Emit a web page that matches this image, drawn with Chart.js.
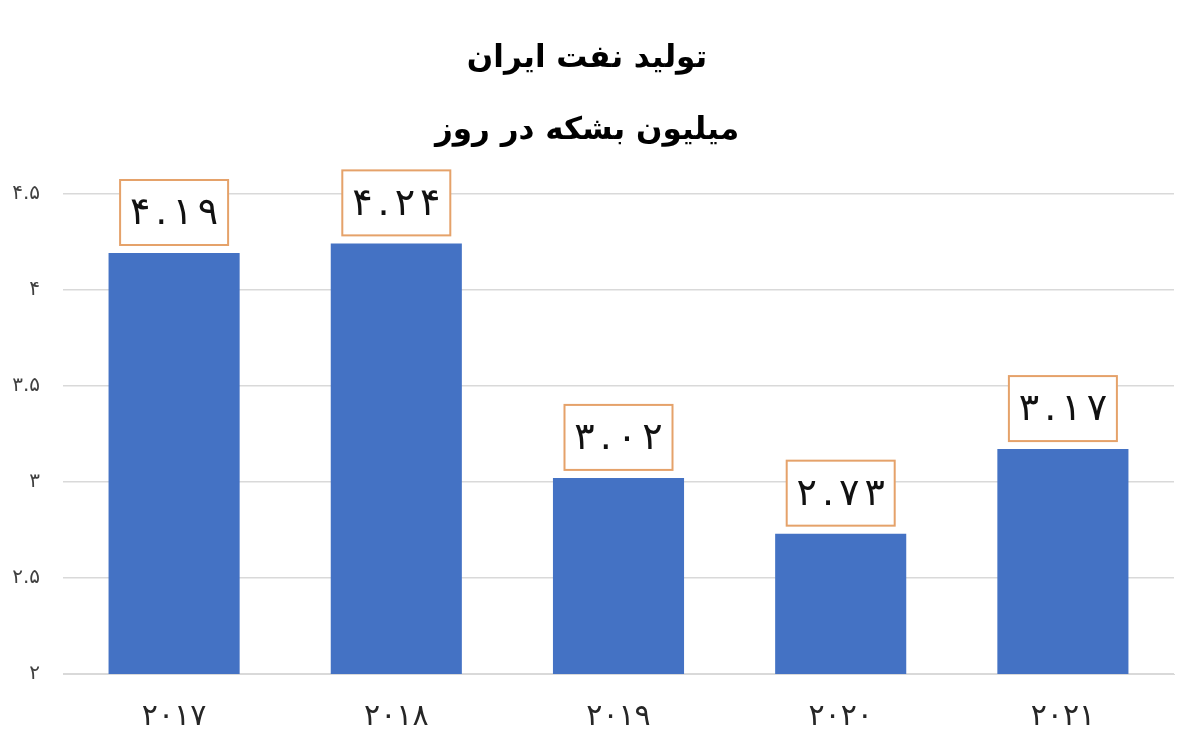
<!DOCTYPE html>
<html>
<head>
<meta charset="utf-8">
<script src="https://cdn.jsdelivr.net/npm/chart.js@4/dist/chart.umd.min.js"></script>
<style>
  html, body { margin: 0; padding: 0; background: #fff; }
  #wrap { width: 1200px; height: 753px; }
</style>
</head>
<body>
<div id="wrap"><canvas id="oil-chart"></canvas></div>
<script>
// Iran oil production, million barrels per day
var years = ["2017", "2018", "2019", "2020", "2021"];
var production = [4.19, 4.24, 3.02, 2.73, 3.17];
var yTicks = [2, 2.5, 3, 3.5, 4, 4.5];

var faDigits = "۰۱۲۳۴۵۶۷۸۹";
function toFa(s) {
    return String(s).replace(/[0-9]/g, function (d) { return faDigits[+d]; });
}

// draw a digit string with extra gap between the characters
function spacedText(ctx, str, cx, cy, gap) {
    var chars = str.split("");
    var widths = chars.map(function (c) { return ctx.measureText(c).width; });
    var total = widths.reduce(function (a, b) { return a + b; }, 0) + gap * (chars.length - 1);
    var x = cx - total / 2;
    ctx.textAlign = "left";
    chars.forEach(function (c, i) {
        ctx.fillText(c, x, cy);
        x += widths[i] + gap;
    });
}

// boxed value labels above each bar
var boxLabels = {
    id: "boxLabels",
    afterDatasetsDraw: function (chart) {
        var ctx = chart.ctx;
        var meta = chart.getDatasetMeta(0);
        ctx.save();
        ctx.font = "38px 'DejaVu Sans'";
        ctx.textBaseline = "middle";
        meta.data.forEach(function (bar, i) {
            var w = 108, h = 65;
            var x = bar.x - w / 2;
            var y = bar.y - 8 - h;
            ctx.fillStyle = "#ffffff";
            ctx.fillRect(x, y, w, h);
            ctx.strokeStyle = "#E5A26A";
            ctx.lineWidth = 2;
            ctx.strokeRect(x, y, w, h);
            ctx.fillStyle = "#111111";
            spacedText(ctx, toFa(production[i].toFixed(2)), bar.x, y + h / 2 + 2, 5);
        });
        ctx.restore();
    }
};

var ctx = document.getElementById("oil-chart");
var oilChart = new Chart(ctx, {
    type: "bar",
    data: {
        labels: years.map(toFa),
        datasets: [{
            data: production,
            backgroundColor: "#4472C4",
            categoryPercentage: 1,
            barPercentage: 0.59
        }]
    },
    options: {
        responsive: true,
        maintainAspectRatio: false,
        animation: false,
        layout: { padding: { left: 0, right: 26, bottom: 1 } },
        plugins: {
            legend: { display: false },
            tooltip: { enabled: false },
            title: {
                display: true,
                text: "تولید نفت ایران",
                color: "#000",
                font: { family: "'DejaVu Sans'", size: 31, weight: "bold" },
                padding: { top: 40, bottom: 35 }
            },
            subtitle: {
                display: true,
                text: "میلیون بشکه در روز",
                color: "#000",
                font: { family: "'DejaVu Sans'", size: 31, weight: "bold" },
                padding: { top: 0, bottom: 44 }
            }
        },
        scales: {
            x: {
                grid: { display: false },
                border: { color: "#D9D9D9" },
                ticks: {
                    color: "#262626",
                    font: { family: "'DejaVu Sans'", size: 30 },
                    padding: 17
                }
            },
            y: {
                min: 2,
                max: 4.5,
                afterBuildTicks: function (axis) {
                    axis.ticks = yTicks.map(function (v) { return { value: v }; });
                },
                afterFit: function (axis) { axis.width = 63; },
                grid: { color: "#D9D9D9", lineWidth: 1.5, drawTicks: false },
                border: { display: false },
                ticks: {
                    color: "#404040",
                    font: { family: "'DejaVu Sans'", size: 20 },
                    padding: 23,
                    callback: function (v) { return toFa(v); }
                }
            }
        }
    },
    plugins: [boxLabels]
});
</script>
</body>
</html>
